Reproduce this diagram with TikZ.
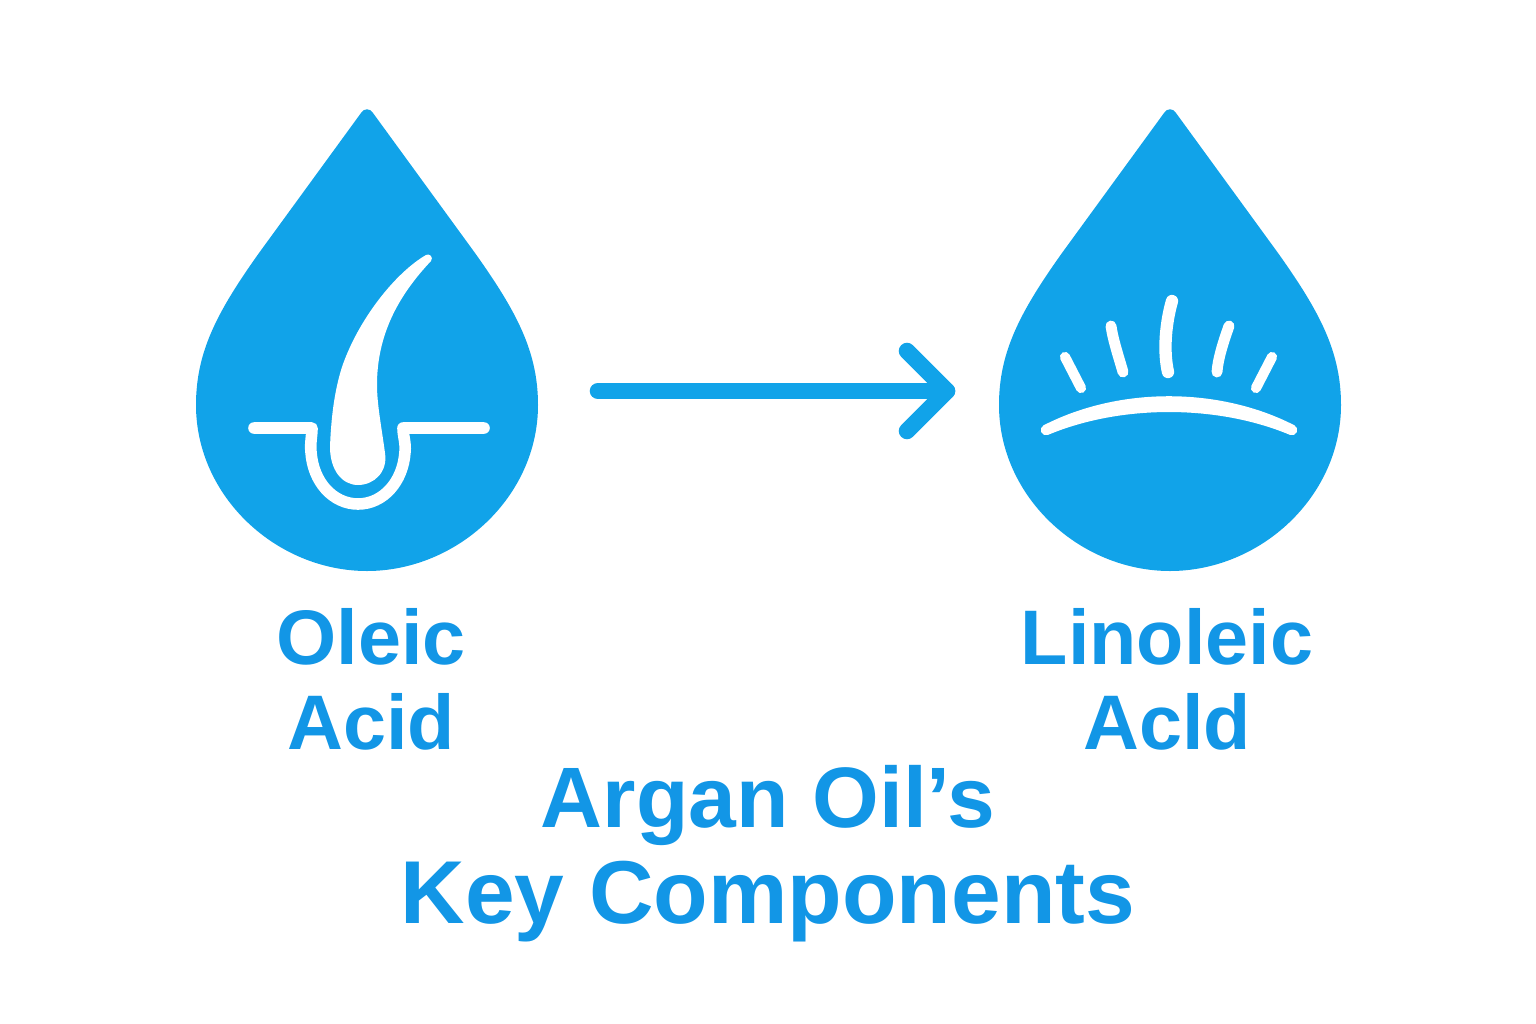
\documentclass[tikz,border=0pt]{standalone}
\usepackage{fontspec}
\setmainfont{Liberation Sans}
\definecolor{dropblue}{RGB}{17,163,233}
\definecolor{textblue}{RGB}{18,150,230}

\begin{document}
\begin{tikzpicture}[x=0.01cm, y=-0.01cm,
        drop/.style = {fill = dropblue},
        whiteline/.style = {draw = white, line width = 3.3pt, line cap = round, line join = round},
        ray/.style = {draw = white, line width = 3.1pt, line cap = round},
        arrowline/.style = {draw = dropblue, line width = 4.7pt, line cap = round, line join = round},
        label/.style = {text = textblue, font = \fontsize{22}{24.2}\selectfont\bfseries, align = center, inner sep = 0pt},
        title/.style = {text = textblue, font = \fontsize{25}{27.3}\selectfont\bfseries, align = center, inner sep = 0pt}]
        \useasboundingbox (0,0) rectangle (1536,1024);

        \foreach \dropx in {367,1170} {
            \fill[drop, shift = {(\dropx,0)}]
            (-6,113) .. controls (-3,108) and (3,108) .. (6,113)
            -- (108,253) .. controls (150,312) and (171,352) .. (171,405)
            .. controls (171,497) and (90,571) .. (0,571)
            .. controls (-90,571) and (-171,497) .. (-171,405)
            .. controls (-171,352) and (-150,312) .. (-108,253) -- cycle;
        }

        % hair in the left drop
        \fill[white]
        (426,255) .. controls (429,253) and (434,257) .. (431,261)
        .. controls (398,296) and (377,335) .. (377,385)
        .. controls (377,405) and (382,430) .. (385,453)
        .. controls (388,472) and (374,485) .. (358,485)
        .. controls (342,485) and (330,470) .. (330,447)
        .. controls (331,420) and (334,392) .. (342,367)
        .. controls (358,320) and (395,273) .. (426,255) -- cycle;
        \draw[whiteline]
        (254,428) -- (312,428) .. controls (312,436) and (310,443) .. (311,452)
        .. controls (313,482) and (333,504) .. (358,504)
        .. controls (383,504) and (403,482) .. (405,452)
        .. controls (406,443) and (403,436) .. (403,428) -- (484,428);

        % rays in the right drop
        \draw[ray, line width = 2.9pt] (1065,357) -- (1081,388);
        \draw[ray] (1111,326) .. controls (1113,340) and (1119,358) .. (1123,372);
        \draw[ray, line width = 3.5pt] (1172,301) .. controls (1166,322) and (1163,350) .. (1168,372);
        \draw[ray] (1229,326) .. controls (1224,340) and (1218,358) .. (1217,372);
        \draw[ray, line width = 2.9pt] (1272,357) -- (1256,388);
        \fill[white, draw = white, line width = 3pt, line join = round]
        (1046,430) .. controls (1120,392) and (1218,392) .. (1292,430)
        .. controls (1218,399) and (1120,399) .. (1046,430) -- cycle;

        % arrow between the drops
        \coordinate (arrowstart) at (598,391);
        \coordinate (arrowend) at (947,391);
        \coordinate (arrowtop) at (907,351);
        \coordinate (arrowbottom) at (907,431);
        \draw[arrowline] (arrowstart) -- (arrowend);
        \draw[arrowline] (arrowtop) -- (arrowend) -- (arrowbottom);

        \node[label] (oleic) at (371,679) {Oleic\\Acid};
        \node[label] (linoleic) at (1167,679) {Linoleic\\Acld};
        \node[title] (argan) at (768,854) {{\fontsize{24.4}{27.3}\selectfont Argan Oil’s}\\{\fontsize{25.4}{27.3}\selectfont Key Components}};
\end{tikzpicture}
\end{document}
